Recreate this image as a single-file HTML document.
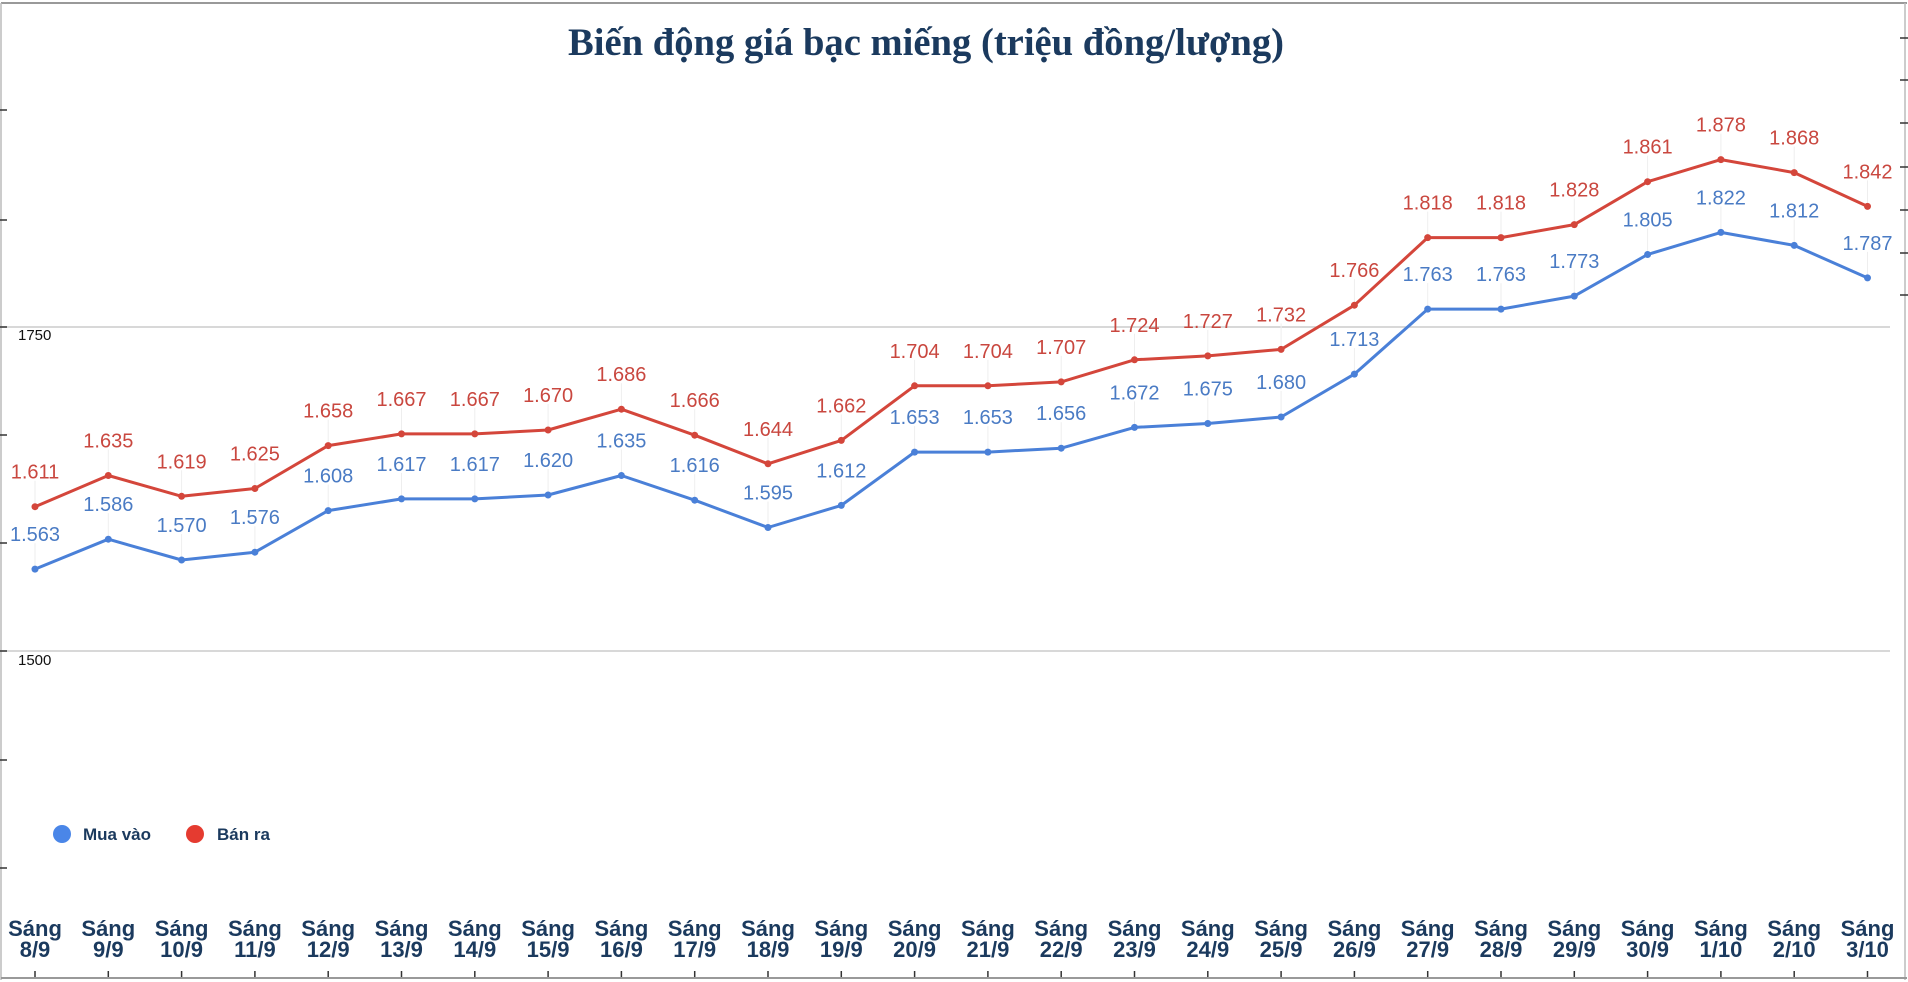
<!DOCTYPE html>
<html><head><meta charset="utf-8">
<style>
html,body{margin:0;padding:0;background:#fff;width:1908px;height:982px;overflow:hidden}
svg{display:block}
</style></head>
<body>
<svg id="c" width="1908" height="982" xmlns="http://www.w3.org/2000/svg">
<rect x="0" y="0" width="1908" height="982" fill="#fff"/>
<line x1="1" y1="3" x2="1907" y2="3" stroke="#999" stroke-width="2"/>
<line x1="1" y1="3" x2="1" y2="980" stroke="#bbb" stroke-width="1.5"/>
<line x1="1905" y1="3" x2="1905" y2="980" stroke="#bbb" stroke-width="1.5"/>
<line x1="1" y1="978" x2="1907" y2="978" stroke="#999" stroke-width="2"/>
<line x1="1" y1="327" x2="1890" y2="327" stroke="#ccc" stroke-width="1.5"/>
<line x1="1" y1="651" x2="1890" y2="651" stroke="#ccc" stroke-width="1.5"/>
<text x="18" y="340" font-family="Liberation Sans, sans-serif" font-size="15" fill="#111">1750</text>
<text x="18" y="665" font-family="Liberation Sans, sans-serif" font-size="15" fill="#111">1500</text>
<text x="926" y="55" text-anchor="middle" font-family="Liberation Serif, serif" font-weight="bold" font-size="39" fill="#1b3a5e" textLength="716" lengthAdjust="spacingAndGlyphs">Biến động giá bạc miếng (triệu đồng/lượng)</text>
<circle cx="62" cy="834" r="9" fill="#4a86e8"/>
<text x="83" y="840" font-family="Liberation Sans, sans-serif" font-weight="bold" font-size="17" fill="#1b3a5e">Mua vào</text>
<circle cx="195" cy="834" r="9" fill="#e53b30"/>
<text x="217" y="840" font-family="Liberation Sans, sans-serif" font-weight="bold" font-size="17" fill="#1b3a5e">Bán ra</text>
<g id="g"></g>
</svg>
<script>
var buy=[1563,1586,1570,1576,1608,1617,1617,1620,1635,1616,1595,1612,1653,1653,1656,1672,1675,1680,1713,1763,1763,1773,1805,1822,1812,1787];
var sell=[1611,1635,1619,1625,1658,1667,1667,1670,1686,1666,1644,1662,1704,1704,1707,1724,1727,1732,1766,1818,1818,1828,1861,1878,1868,1842];
var dates=["8/9","9/9","10/9","11/9","12/9","13/9","14/9","15/9","16/9","17/9","18/9","19/9","20/9","21/9","22/9","23/9","24/9","25/9","26/9","27/9","28/9","29/9","30/9","1/10","2/10","3/10"];
function X(i){return 35+i*73.3;}
function Y(v){return 326-(v-1750)*1.3;}
var s="";
// left/right ticks
[110,220,327,435,543,651,760,868].forEach(function(y){s+='<line x1="0" y1="'+y+'" x2="7" y2="'+y+'" stroke="#333" stroke-width="1.5"/>';});
[38,80,123,167,210,253,295].forEach(function(y){s+='<line x1="1900" y1="'+y+'" x2="1908" y2="'+y+'" stroke="#333" stroke-width="1.5"/>';});
function series(d,col,tcol){
  var p="";
  for(var i=0;i<d.length;i++){
    var x=X(i),y=Y(d[i]);
    p+=(i?"L":"M")+x.toFixed(1)+","+y.toFixed(1);
    s+='<line x1="'+x+'" y1="'+(y-26)+'" x2="'+x+'" y2="'+y+'" stroke="#eee" stroke-width="1"/>';
  }
  s+='<path d="'+p+'" fill="none" stroke="'+col+'" stroke-width="3" stroke-linejoin="round"/>';
  for(var i=0;i<d.length;i++){
    var x=X(i),y=Y(d[i]);
    s+='<circle cx="'+x+'" cy="'+y+'" r="3.5" fill="'+col+'"/>';
    var v=(d[i]/1000).toFixed(3);
    s+='<text x="'+x+'" y="'+(y-28)+'" text-anchor="middle" font-family="Liberation Sans, sans-serif" font-size="20" fill="'+tcol+'">'+v+'</text>';
  }
}
series(sell,"#d4463b","#c9473f");
series(buy,"#4a80d8","#4a7bc4");
for(var i=0;i<dates.length;i++){
  var x=X(i);
  s+='<text x="'+x+'" y="936" text-anchor="middle" font-family="Liberation Sans, sans-serif" font-weight="bold" font-size="22" fill="#1b3a5e">Sáng</text>';
  s+='<text x="'+x+'" y="957" text-anchor="middle" font-family="Liberation Sans, sans-serif" font-weight="bold" font-size="22" fill="#1b3a5e">'+dates[i]+'</text>';
  s+='<line x1="'+x+'" y1="971" x2="'+x+'" y2="977" stroke="#333" stroke-width="1.5"/>';
}
document.getElementById("g").innerHTML=s;
</script>
</body></html>
